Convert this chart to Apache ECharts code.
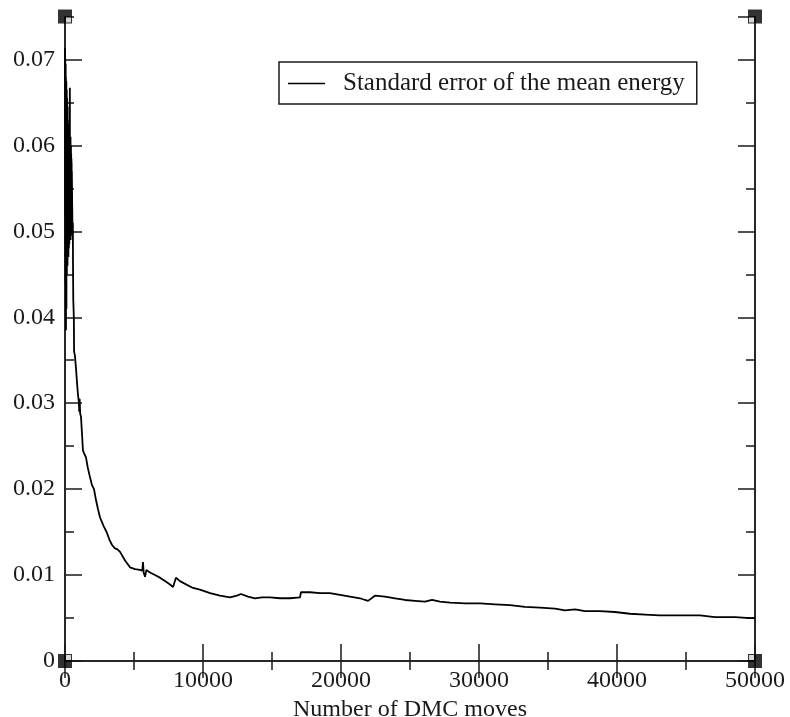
<!DOCTYPE html>
<html>
<head>
<meta charset="utf-8">
<script src="https://cdn.jsdelivr.net/npm/echarts@6/dist/echarts.min.js"></script>
<style>
  html, body { margin: 0; padding: 0; background: #fff; }
  #chart { width: 790px; height: 717px; }
</style>
</head>
<body>
<div id="chart"></div>
<script>
// Number of DMC moves (x) and running standard error of the mean energy (y)
const moves = [
  0, 8, 16, 24, 32, 40, 48, 56, 64, 72, 80, 88, 96, 104, 112, 120, 128, 136, 144, 152,
  160, 168, 176, 184, 192, 200, 208, 216, 224, 232, 240, 248, 256, 264, 272, 280, 288, 296, 304, 312,
  320, 328, 336, 344, 352, 360, 368, 376, 384, 392, 400, 408, 416, 424, 432, 440, 448, 456, 464, 472,
  480, 488, 496,
  520, 545, 570, 580, 600, 640, 660, 720, 800, 870, 940, 1000, 1030, 1060, 1100, 1160, 1230, 1300,
  1380, 1450, 1520, 1650, 1810, 1950, 2100, 2250, 2400, 2540, 2800, 3040, 3250, 3410, 3500, 3620, 3800, 3990,
  4350, 4710, 5070, 5430, 5600, 5650, 5700, 5800, 5900, 6010, 6160, 6520, 6880, 7250, 7610, 7830, 8040, 8330,
  9270, 9780, 10510, 11230, 11960, 12460, 12750, 13260, 13770, 14270, 14850, 15580,
  16300, 17030, 17100, 17750, 18480, 19200, 19930, 20650, 21380, 21740, 21960, 22460, 23190, 23910, 24640, 25360,
  26090, 26600, 27170, 27900, 28980, 30070, 31160, 32250, 33330, 34420, 35510, 36230, 36960, 37680, 38770, 39850,
  40940, 42030, 43110, 44560, 46010, 47100, 48550, 49640, 50000
];
const stdErr = [
  0.0713, 0.0520, 0.0700, 0.0470, 0.0690, 0.0440, 0.0695, 0.0480, 0.0680, 0.0385,
  0.0670, 0.0460, 0.0675, 0.0410, 0.0660, 0.0470, 0.0665, 0.0450, 0.0650, 0.0480,
  0.0655, 0.0470, 0.0640, 0.0460, 0.0645, 0.0490, 0.0630, 0.0475, 0.0620, 0.0485,
  0.0625, 0.0470, 0.0615, 0.0490, 0.0610, 0.0480, 0.0620, 0.0495, 0.0605, 0.0485,
  0.0600, 0.0490, 0.0610, 0.0495, 0.0667, 0.0500, 0.0605, 0.0495, 0.0600, 0.0500,
  0.0610, 0.0490, 0.0595, 0.0500, 0.0600, 0.0495, 0.0590, 0.0500, 0.0585, 0.0505,
  0.0580, 0.0500, 0.0570,
  0.0530, 0.0505, 0.0510, 0.0460, 0.0420, 0.0400, 0.0360, 0.0355, 0.0340, 0.0324, 0.0310, 0.0302, 0.0290, 0.0305, 0.0288, 0.0284, 0.0265, 0.0245,
  0.0242, 0.0240, 0.0237, 0.0225, 0.0214, 0.0205, 0.0200, 0.0187, 0.0176, 0.0167, 0.0157, 0.0149, 0.0140, 0.0135, 0.0136, 0.0131, 0.0130, 0.0127,
  0.0117, 0.0109, 0.0107, 0.0106, 0.0105, 0.0115, 0.0103, 0.0098, 0.0106, 0.0104, 0.0103, 0.0100, 0.0097, 0.0093, 0.0089, 0.0086, 0.0097, 0.0093,
  0.0085, 0.0083, 0.0079, 0.0076, 0.0074, 0.0076, 0.0078, 0.0075, 0.0073, 0.0074, 0.0074, 0.0073,
  0.0073, 0.0074, 0.0080, 0.0080, 0.0079, 0.0079, 0.0077, 0.0075, 0.0073, 0.0071, 0.0070, 0.0076, 0.0075, 0.0073, 0.0071, 0.0070,
  0.0069, 0.0071, 0.0069, 0.0068, 0.0067, 0.0067, 0.0066, 0.0065, 0.0063, 0.0062, 0.0061, 0.0059, 0.0060, 0.0058, 0.0058, 0.0057,
  0.0055, 0.0054, 0.0053, 0.0053, 0.0053, 0.0051, 0.0051, 0.0050, 0.0050
];

// Axis ranges and tick spacing
const xRange = [0, 50000];
const yRange = [0, 0.075];
const xMajor = 10000;
const yMajor = 0.01;
const yMinor = 0.005;

const seriesName = 'Standard error of the mean energy';
const xTitle = 'Number of DMC moves';

const FONT = "'Liberation Serif', 'Times New Roman', serif";
const INK = '#1a1a1a';

const curve = moves.map((m, i) => [m, stdErr[i]]);
// frame markers at the four plot corners
const corners = [
  { value: [xRange[0], yRange[0]], off: [3.5, -3.5] },
  { value: [xRange[1], yRange[0]], off: [-3.5, -3.5] },
  { value: [xRange[0], yRange[1]], off: [3.5, 3.5] },
  { value: [xRange[1], yRange[1]], off: [-3.5, 3.5] }
];

const axisLine = { show: true, lineStyle: { color: INK, width: 1.5 } };

function yAxisDef(position, interval, tickLen, withLabels) {
  return {
    type: 'value', position, min: yRange[0], max: yRange[1], interval,
    axisLine, splitLine: { show: false },
    axisTick: { show: true, inside: true, length: tickLen, lineStyle: { color: INK, width: 1.5 } },
    axisLabel: withLabels ? {
      show: true, showMaxLabel: false, margin: 10, fontFamily: FONT, fontSize: 24, color: INK,
      formatter: v => (v === 0 ? '0' : v.toFixed(2))
    } : { show: false }
  };
}

function xAxisDef(position, withLabels) {
  return {
    type: 'value', position, min: xRange[0], max: xRange[1], interval: xMajor,
    axisLine, splitLine: { show: false },
    axisTick: { show: true, inside: true, length: 17, lineStyle: { color: INK, width: 1.5 } },
    minorTick: { show: true, splitNumber: 2, length: 9, lineStyle: { color: INK, width: 1.5 } },
    axisLabel: withLabels ? {
      show: true, margin: 8, fontFamily: FONT, fontSize: 24, color: INK,
      formatter: v => String(v)
    } : { show: false },
    name: withLabels ? xTitle : '',
    nameLocation: 'middle', nameGap: 30,
    nameTextStyle: { fontFamily: FONT, fontSize: 24, color: INK }
  };
}

const chart = echarts.init(document.getElementById('chart'), null, { renderer: 'canvas' });
chart.setOption({
  animation: false,
  backgroundColor: '#fff',
  grid: { left: 65, right: 35, top: 16.5, bottom: 56, containLabel: false, outerBoundsMode: 'none' },
  legend: {
    data: [seriesName],
    left: 279, top: 62,
    orient: 'horizontal',
    padding: [9, 12, 8, 9],
    borderColor: INK, borderWidth: 1.5,
    icon: 'rect',
    itemWidth: 37, itemHeight: 1.5,
    itemStyle: { color: '#000' },
    textStyle: { fontFamily: FONT, fontSize: 25, color: INK, padding: [0, 0, 0, 13] }
  },
  xAxis: [xAxisDef('bottom', true), xAxisDef('top', false)],
  yAxis: [
    yAxisDef('left', yMajor, 17, true),
    yAxisDef('left', yMinor, 9, false),
    yAxisDef('right', yMajor, 17, false),
    yAxisDef('right', yMinor, 9, false)
  ],
  series: [
    {
      name: seriesName, type: 'line', xAxisIndex: 0, yAxisIndex: 0,
      data: curve, symbol: 'none', showSymbol: false,
      lineStyle: { color: '#000', width: 1.8 }, itemStyle: { color: '#000' }
    },
    {
      type: 'scatter', xAxisIndex: 0, yAxisIndex: 0, silent: true, clip: false, z: 10,
      symbol: 'rect', symbolSize: 14, itemStyle: { color: '#000' },
      data: corners.map(c => c.value)
    },
    {
      type: 'scatter', xAxisIndex: 0, yAxisIndex: 0, silent: true, clip: false, z: 11,
      symbol: 'rect', symbolSize: 5, itemStyle: { color: '#fff' },
      data: corners.map(c => ({ value: c.value, symbolOffset: c.off }))
    }
  ]
});
</script>
</body>
</html>
